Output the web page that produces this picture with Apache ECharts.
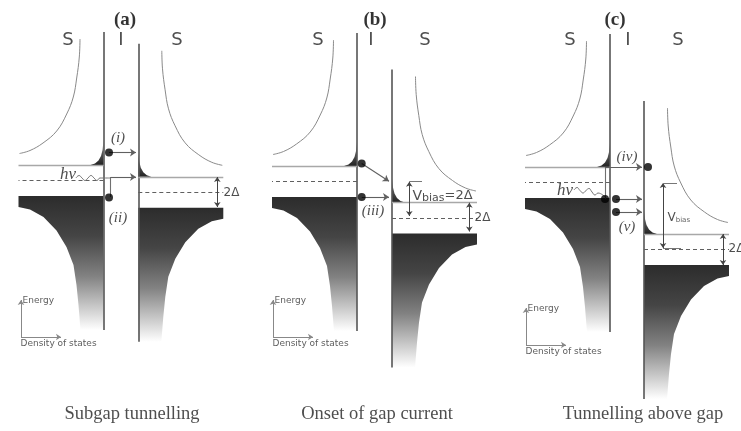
<!DOCTYPE html>
<html><head><meta charset="utf-8">
<script src="https://cdn.jsdelivr.net/npm/echarts@6/dist/echarts.min.js"></script>
<style>html,body{margin:0;padding:0;background:#fff}#c{width:741px;height:431px}</style>
</head><body><div id="c"></div>
<script>
// ---------------- data (px units of the diagram) ----------------
const panelTitles = ['(a)', '(b)', '(c)'];
const panelTitleX = [125, 375, 615];
const captions = ['Subgap tunnelling', 'Onset of gap current', 'Tunnelling above gap'];
const captionX = [132, 377, 643];

// six superconducting electrodes: left / right of each insulating barrier
const barrierX = [103.5, 138.3, 357, 392, 610, 644];
const side = [-1, 1, -1, 1, -1, 1];
const gapTop = [165, 176.8, 166, 202.5, 167, 234];   // upper gap edge level
const gap2D = 31;             // 2Δ
const fermiShift = 15.5;      // Fermi level below upper gap edge
const electrodeWidth = 85;
const barrierAbove = 133, barrierBelow = 165;

// density of states curves: [density, energy offset]
const emptyDOS = [[23.5,-126],[24.2,-108],[26.8,-87],[30.2,-68],[36.8,-51],[46.8,-34],[60.5,-22],[73.5,-14.5],[84,-11.5]];
const filledDOS = [[85,0],[85,11],[73.5,13.5],[60,21],[47,34.5],[37,51],[30,69],[27,89],[25,109],[23.5,128],[23,134]];
const thermalDOS = [[0,-24],[1,-15],[2.5,-9],[5,-4.5],[8.5,-1.5],[13,0]];

// tunnelling processes
const processArrows = [
  [[109,152.5],[136,152.5]],
  [[110.5,197],[110.5,177],[136,177]],
  [[361.7,163.5],[389,181.3]],
  [[361.7,197],[389,197]],
  [[605,199],[605,167],[642,167]],
  [[616,199],[642,199]],
  [[616,212],[642,212]]
];
const electrons = [[109,152.5],[109,197.5],[361.7,163.5],[361.7,197],[605,199],[616,199],[616,212],[648,167]];
const photonWaves = [
  [[76,178],[79,175.5],[82,178],[85,180.5],[88,178],[91,175.5],[94,178],[97,180.5],[100,178],[110.5,178]],
  [[574,190],[577,187.5],[580,190.5],[583,193],[586,190.5],[589,188.5],[592,192],[595,195],[598,193],[605,197]]
];
const gapArrows = [[[217.3,177],[217.3,207]], [[469.3,202.7],[469.3,231.5]], [[723,234],[723,265]]];
const biasArrows = [[[409.3,181.7],[409.3,216]], [[663,183],[663,248]]];
const biasTicks = [[[409.3,181.7],[422,181.7]], [[663,183],[677,183]], [[663,248],[681,248]]];

// little Energy / DOS axes
const axisOrigins = [[21,337],[273,337],[526,345]];
const energyLen = 37, dosLen = 40;

// text
const junctionLetters = [[68,40,'S'],[121,40,'I'],[177,40,'S'],[318,40,'S'],[371,40,'I'],[425,40,'S'],[570,40,'S'],[628,40,'I'],[678,40,'S']];
const processLabels = [[118,138,'(i)'],[118,218,'(ii)'],[373,211,'(iii)'],[627,157,'(iv)'],[627,227,'(v)']];
const photonLabels = [[68,175,'hν'],[565,191,'hν']];
const gapLabels = [[223,193,'2Δ'],[474,218,'2Δ'],[728,249,'2Δ']];
const biasLabels = [[412,196,'{v|V}{s|bias}{n|=2Δ}']];
const biasLabelsSmall = [[667,218,'{v|V}{s|bias}']];

// ---------------- build ----------------
const SANS = 'DejaVu Sans', SERIF = 'Liberation Serif';
const series = [];
const seg = (a, b) => ({coords: [a, b]});

function fillGrad() {
  return new echarts.graphic.LinearGradient(0, 0, 0, 1, [
    {offset: 0, color: '#2c2c2c'}, {offset: 0.3, color: '#454545'},
    {offset: 0.6, color: '#828282'}, {offset: 0.85, color: '#d0d0d0'}, {offset: 1, color: '#ffffff'}]);
}
function cuspGrad() {
  return new echarts.graphic.LinearGradient(0, 0, 0, 1, [
    {offset: 0, color: '#b0b0b0'}, {offset: 0.5, color: '#555'}, {offset: 1, color: '#222'}]);
}

// filled states
series.push({type: 'custom', coordinateSystem: 'cartesian2d', z: 1, silent: true,
  data: barrierX.map((x, i) => [x, gapTop[i]]),
  renderItem: (params, api) => {
    const i = params.dataIndex;
    const top = gapTop[i] + gap2D;
    const pts = filledDOS.map(p => [barrierX[i] + side[i] * p[0], top + p[1]]);
    const last = filledDOS[filledDOS.length - 1];
    pts.push([barrierX[i], top + last[1]]);
    pts.push([barrierX[i], top]);
    return {type: 'polygon', shape: {points: pts.map(p => api.coord(p))}, style: {fill: fillGrad()}};
  }});
// thermally excited quasiparticles
series.push({type: 'custom', coordinateSystem: 'cartesian2d', z: 1, silent: true,
  data: barrierX.map((x, i) => [x, gapTop[i]]),
  renderItem: (params, api) => {
    const i = params.dataIndex;
    const pts = thermalDOS.map(p => [barrierX[i] + side[i] * p[0], gapTop[i] + p[1]]);
    pts.push([barrierX[i], gapTop[i]]);
    return {type: 'polygon', shape: {points: pts.map(p => api.coord(p))}, style: {fill: cuspGrad()}};
  }});

// empty-state DOS curves
barrierX.forEach((x, i) => {
  series.push({type: 'line', z: 2, silent: true, showSymbol: false, smooth: 0.4,
    data: emptyDOS.map(p => [x + side[i] * p[0], gapTop[i] + p[1]]),
    lineStyle: {color: '#8a8a8a', width: 1}});
});

// barriers
series.push({type: 'lines', coordinateSystem: 'cartesian2d', z: 3, silent: true,
  data: barrierX.map((x, i) => seg([x, gapTop[i] - barrierAbove], [x, gapTop[i] + barrierBelow])),
  lineStyle: {color: '#555', width: 1.6, opacity: 1}});
// upper gap edges
series.push({type: 'lines', coordinateSystem: 'cartesian2d', z: 3, silent: true,
  data: barrierX.map((x, i) => seg([x, gapTop[i]], [x + side[i] * electrodeWidth, gapTop[i]])),
  lineStyle: {color: '#a8a8a8', width: 1.4, opacity: 1}});
// Fermi levels
series.push({type: 'lines', coordinateSystem: 'cartesian2d', z: 3, silent: true,
  data: barrierX.map((x, i) => seg([x, gapTop[i] + fermiShift], [x + side[i] * electrodeWidth, gapTop[i] + fermiShift])),
  lineStyle: {color: '#606060', width: 1.1, type: [4, 3], opacity: 1}});

// process arrows: plain segments + final arrow segment
const plainSegs = [], arrowSegs = [];
processArrows.forEach(path => {
  for (let k = 0; k < path.length - 1; k++) {
    (k === path.length - 2 ? arrowSegs : plainSegs).push(seg(path[k], path[k + 1]));
  }
});
series.push({type: 'lines', coordinateSystem: 'cartesian2d', z: 4, silent: true, data: plainSegs,
  lineStyle: {color: '#707070', width: 1.1, opacity: 1}});
series.push({type: 'lines', coordinateSystem: 'cartesian2d', z: 4, silent: true, data: arrowSegs,
  symbol: ['none', 'arrow'], symbolSize: 6,
  lineStyle: {color: '#606060', width: 1.1, opacity: 1}});
// photons
photonWaves.forEach(w => series.push({type: 'line', z: 4, silent: true, showSymbol: false, smooth: true,
  data: w, lineStyle: {color: '#777', width: 1}}));
// 2Δ and bias arrows
series.push({type: 'lines', coordinateSystem: 'cartesian2d', z: 4, silent: true,
  data: gapArrows.concat(biasArrows).map(a => seg(a[0], a[1])),
  symbol: ['arrow', 'arrow'], symbolSize: 5,
  lineStyle: {color: '#444', width: 1, opacity: 1}});
series.push({type: 'lines', coordinateSystem: 'cartesian2d', z: 4, silent: true,
  data: biasTicks.map(a => seg(a[0], a[1])),
  lineStyle: {color: '#777', width: 1, opacity: 1}});
// small axes
series.push({type: 'lines', coordinateSystem: 'cartesian2d', z: 4, silent: true,
  data: axisOrigins.flatMap(o => [seg(o, [o[0], o[1] - energyLen]), seg(o, [o[0] + dosLen, o[1]])]),
  symbol: ['none', 'arrow'], symbolSize: 5,
  lineStyle: {color: '#888', width: 1, opacity: 1}});
// electrons
series.push({type: 'scatter', z: 5, silent: true, data: electrons, symbolSize: 8,
  itemStyle: {color: '#000'}});

// text helper
function textSeries(data, label) {
  series.push({type: 'scatter', z: 6, silent: true, symbolSize: 1, itemStyle: {color: 'rgba(0,0,0,0)'},
    data: data,
    label: Object.assign({show: true, position: 'inside', formatter: p => p.data[2], color: '#111'}, label)});
}
textSeries(panelTitles.map((t, i) => [panelTitleX[i], 20, t]), {fontFamily: SERIF, fontWeight: 'bold', fontSize: 19, color: '#000'});
textSeries(captions.map((t, i) => [captionX[i], 414, t]), {fontFamily: SERIF, fontSize: 18.5, color: '#222'});
textSeries(junctionLetters, {fontFamily: SANS, fontSize: 18, color: '#222'});
textSeries(processLabels, {fontFamily: SERIF, fontStyle: 'italic', fontSize: 15, color: '#222'});
textSeries(photonLabels, {fontFamily: SERIF, fontStyle: 'italic', fontSize: 17, color: '#222'});
textSeries(gapLabels, {fontFamily: SANS, fontSize: 12, color: '#222', position: 'right', distance: 0});
textSeries(biasLabels, {position: 'right', distance: 0, color: '#222',
  rich: {v: {fontSize: 14, fontFamily: SANS, color: '#222'},
         s: {fontSize: 11, fontFamily: SANS, color: '#222', padding: [4, 0, 0, 0]},
         n: {fontSize: 13, fontFamily: SANS, color: '#222'}}});
textSeries(biasLabelsSmall, {position: 'right', distance: 0, color: '#222',
  rich: {v: {fontSize: 12, fontFamily: SANS, color: '#222'},
         s: {fontSize: 7, fontFamily: SANS, color: '#333', padding: [5, 0, 0, 0]}}});
textSeries(axisOrigins.map(o => [o[0] + 1, o[1] - energyLen + 1, 'Energy']), {fontFamily: SANS, fontSize: 9, color: '#333', position: 'right', distance: 0});
textSeries(axisOrigins.map(o => [o[0] - 1, o[1] + 7, 'Density of states']), {fontFamily: SANS, fontSize: 9, color: '#333', position: 'right', distance: 0});

const chart = echarts.init(document.getElementById('c'), null, {renderer: 'canvas'});
chart.setOption({
  animation: false,
  backgroundColor: '#fff',
  grid: {left: 0, right: 0, top: 0, bottom: 0},
  xAxis: {type: 'value', min: 0, max: 741, show: false},
  yAxis: {type: 'value', min: 0, max: 431, inverse: true, show: false},
  series: series
});
</script></body></html>
